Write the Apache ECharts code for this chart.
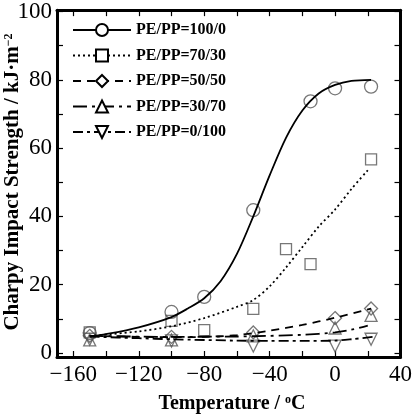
<!DOCTYPE html>
<html>
<head>
<meta charset="utf-8">
<script src="https://cdn.jsdelivr.net/npm/echarts@6/dist/echarts.min.js"></script>
<style>
  html, body { margin: 0; padding: 0; background: #fff; }
  #chart { width: 415px; height: 417px; }
</style>
</head>
<body>
<div id="chart"></div>
<script>
  // series names
  var names = ['PE/PP=100/0', 'PE/PP=70/30', 'PE/PP=50/50', 'PE/PP=30/70', 'PE/PP=0/100']

  // measured points (temperature, strength)
  var pts100T = [-150, -100, -80, -50, -15, 0, 22]
  var pts100V = [5.8, 12, 16.4, 41.8, 73.7, 77.5, 78]
  var pts70T = [-150, -100, -80, -50, -30, -15, 22]
  var pts70V = [6, 9.4, 6.7, 12.9, 30.4, 26, 56.7]
  var pts50T = [-150, -100, -50, 0, 22]
  var pts50V = [5, 4.7, 6, 10.2, 13]
  var pts30T = [-150, -100, -50, 0, 22]
  var pts30V = [3.8, 3.8, 5, 7.3, 11]
  var pts0T = [-150, -100, -50, 0, 22]
  var pts0V = [4, 3.5, 2, 2, 4]

  // fitted curves
  var fit100T = [-150, -140, -120, -100, -90, -80, -70, -60, -50, -40, -30, -20, -10, 0, 10, 22]
  var fit100V = [4.8, 5.5, 7.5, 10.5, 13, 16, 21, 29, 40, 52, 63, 71, 76, 78.5, 79.7, 80]
  var fit70T = [-150, -120, -100, -80, -60, -50, -40, -30, -20, -10, 0, 10, 20]
  var fit70V = [5, 6.3, 7.8, 10.2, 13.5, 15.5, 19.5, 25, 31, 37, 42, 48, 53.5]
  var fit50T = [-150, -100, -80, -60, -40, -20, 0, 22]
  var fit50V = [5, 4.6, 4.7, 5.2, 6.5, 8.2, 10.3, 13]
  var fit30T = [-150, -100, -60, -40, -20, 0, 10, 20]
  var fit30V = [5, 4.7, 4.8, 5, 5.3, 6, 6.8, 8]
  var fit0T = [-150, -120, -100, -60, -40, -20, 0, 10, 25]
  var fit0V = [4.8, 4.3, 4, 3.6, 3.5, 3.5, 3.6, 4, 4.8]

  // axis ticks / labels
  var xTicks = [-160, -140, -120, -100, -80, -60, -40, -20, 0, 20, 40]
  var xLabels = [-160, -120, -80, -40, 0, 40]
  var yTicks = [0, 10, 20, 30, 40, 50, 60, 70, 80, 90, 100]
  var yLabels = [0, 20, 40, 60, 80, 100]

  function zip(xs, ys) {
    return xs.map(function (x, i) { return [x, ys[i]] })
  }

  var serif = '"Liberation Serif", "DejaVu Serif", serif'
  var markers = ['circle', 'rect', 'diamond', 'triangle', 'triangle']
  var markerRot = [0, 0, 0, 0, 180]
  var markerSize = [13, 11, 13, 12, 12]
  var dashes = ['solid', [2, 3], [8, 6], [14, 5, 3, 5], [10, 4, 3, 4]]
  var fits = [zip(fit100T, fit100V), zip(fit70T, fit70V), zip(fit50T, fit50V), zip(fit30T, fit30V), zip(fit0T, fit0V)]
  var points = [zip(pts100T, pts100V), zip(pts70T, pts70V), zip(pts50T, pts50V), zip(pts30T, pts30V), zip(pts0T, pts0V)]

  var series = []
  names.forEach(function (n, i) {
    series.push({
      name: n,
      type: 'line',
      smooth: 0.3,
      data: fits[i],
      symbol: 'empty' + markers[i].charAt(0).toUpperCase() + markers[i].slice(1),
      symbolRotate: markerRot[i],
      showSymbol: false,
      color: '#000',
      lineStyle: {color: '#000', width: 1.8, type: dashes[i]},
      silent: true,
      z: 3
    })
  })
  names.forEach(function (n, i) {
    series.push({
      name: n,
      type: 'scatter',
      data: points[i],
      symbol: markers[i],
      symbolRotate: markerRot[i],
      symbolSize: markerSize[i],
      itemStyle: {color: 'transparent', borderColor: '#555', borderWidth: 1.3},
      z: 2
    })
  })

  function minus(v) {
    return v < 0 ? '\u2212' + Math.abs(v) : String(v)
  }

  function mkX(pos, show) {
    return {
      type: 'value', position: pos, min: -170, max: 40,
      axisLine: {show: true, onZero: false, lineStyle: {color: '#000', width: 3}},
      axisTick: {inside: true, length: 6, customValues: xTicks, lineStyle: {color: '#000', width: 1.2}},
      axisLabel: {show: show, customValues: xLabels, formatter: minus, margin: 6,
        fontFamily: serif, fontWeight: 'normal', fontSize: 23, color: '#000'},
      splitLine: {show: false}
    }
  }
  function mkY(pos, show) {
    return {
      type: 'value', position: pos, min: -1.2, max: 100.4,
      axisLine: {show: true, onZero: false, lineStyle: {color: '#000', width: 3}},
      axisTick: {inside: true, length: 6, customValues: yTicks, lineStyle: {color: '#000', width: 1.2}},
      axisLabel: {show: show, customValues: yLabels, margin: 5,
        fontFamily: serif, fontWeight: 'normal', fontSize: 23, color: '#000'},
      splitLine: {show: false}
    }
  }

  var chart = echarts.init(document.getElementById('chart'))
  chart.setOption({
    animation: false,
    backgroundColor: '#fff',
    grid: {left: 57, right: 12, top: 10, bottom: 60},
    xAxis: [mkX('bottom', true), mkX('top', false)],
    yAxis: [mkY('left', true), mkY('right', false)],
    legend: {
      data: names,
      orient: 'vertical',
      left: 67,
      top: 17,
      itemWidth: 58,
      itemHeight: 15,
      itemGap: 9.5,
      textStyle: {fontFamily: serif, fontWeight: 'bold', fontSize: 16, color: '#000'}
    },
    graphic: [
      {
        type: 'text', x: 232, y: 404,
        style: {
          text: '{a|Temperature / }{s|o}{a|C}',
          align: 'center', verticalAlign: 'middle',
          rich: {
            a: {fontFamily: serif, fontWeight: 'bold', fontSize: 20, fill: '#000'},
            s: {fontFamily: serif, fontWeight: 'bold', fontSize: 12, fill: '#000', verticalAlign: 'top'}
          }
        }
      },
      {
        type: 'text', x: 13, y: 182, rotation: Math.PI / 2,
        style: {
          text: '{a|Charpy Impact Strength / kJ\u00b7m}{s|\u22122}',
          align: 'center', verticalAlign: 'middle',
          rich: {
            a: {fontFamily: serif, fontWeight: 'bold', fontSize: 21, fill: '#000'},
            s: {fontFamily: serif, fontWeight: 'bold', fontSize: 12, fill: '#000', verticalAlign: 'top'}
          }
        }
      }
    ],
    series: series
  })
</script>
</body>
</html>
